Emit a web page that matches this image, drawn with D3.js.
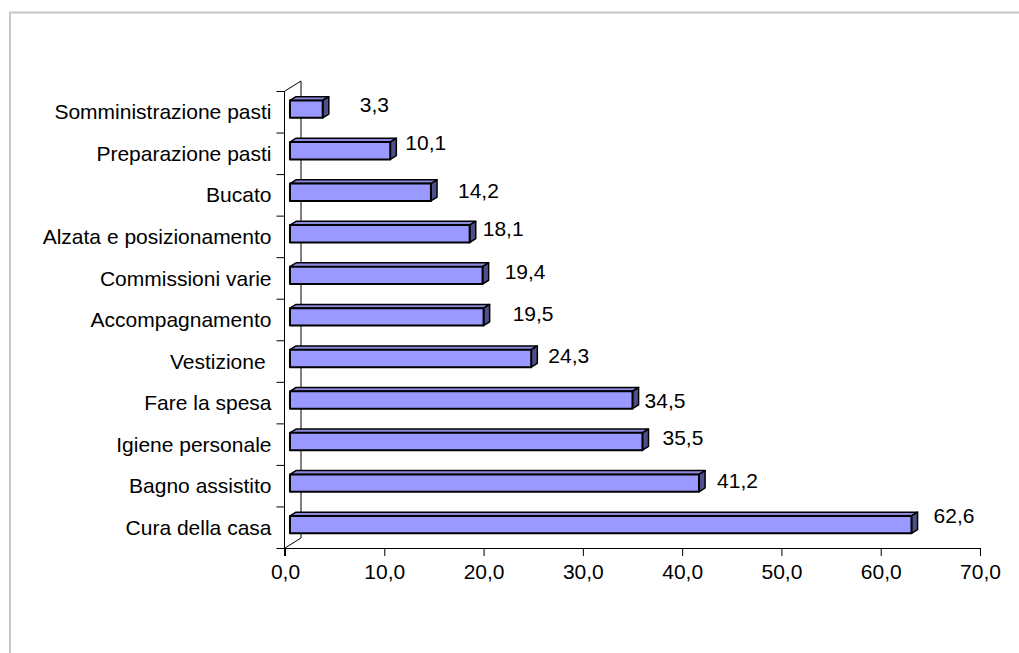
<!DOCTYPE html>
<html><head><meta charset="utf-8">
<script src="https://cdn.jsdelivr.net/npm/d3@7/dist/d3.min.js"></script>
<style>
body{margin:0;background:#fff;}
text{font-family:"Liberation Sans",Arial,sans-serif;fill:#000;}
</style></head>
<body>
<svg id="c" width="1019" height="653"></svg>
<script>
const categories = ["Somministrazione pasti","Preparazione pasti","Bucato","Alzata e posizionamento","Commissioni varie","Accompagnamento","Vestizione ","Fare la spesa","Igiene personale","Bagno assistito","Cura della casa"];
const values = [3.3,10.1,14.2,18.1,19.4,19.5,24.3,34.5,35.5,41.2,62.6];
const tickValues = [0,10,20,30,40,50,60,70];
// label nudges (layout only)
const labelGapX = [31,9,21,7,16,23,11,6,14,12,16];
const labelDy = [-7.5,-10.7,-4.8,-8,-6,-6.5,-5.8,-2.3,-7,-5.3,-11.3];

const svg = d3.select("#c");
const fmt = d => d3.format(".1f")(d).replace(".", ",");

// frame
svg.append("rect").attr("x",10).attr("y",12.5).attr("width",1100).attr("height",800)
  .attr("fill","none").attr("stroke","#c8c8c8").attr("stroke-width",2);

const x = d3.scaleLinear().domain([0,70]).range([285,980]);
const y = d3.scaleBand().domain(categories).range([91,548]).paddingInner(0).paddingOuter(0);
const wall = {dx:16, dy:-10};
const f1 = 0.31, f2 = 0.69;
const barH = 17.4;

// back wall outline
const g = svg.append("g").attr("stroke","#000").attr("stroke-width",1).attr("fill","none");
g.append("line").attr("x1",x(0)).attr("y1",91).attr("x2",x(0)+wall.dx).attr("y2",91+wall.dy);
g.append("line").attr("x1",x(0)+wall.dx).attr("y1",91+wall.dy).attr("x2",x(0)+wall.dx).attr("y2",548+wall.dy);
g.append("line").attr("x1",x(0)).attr("y1",548).attr("x2",x(0)+wall.dx).attr("y2",548+wall.dy);

// x axis
const xa = svg.append("g").attr("transform","translate(0,548)")
  .call(d3.axisBottom(x).tickValues(tickValues).tickFormat(fmt).tickSize(8).tickPadding(8));
xa.select(".domain").attr("stroke","#000").attr("d",`M${x(0)},0.5H${x(70)}`);
xa.selectAll(".tick line").attr("stroke","#000");
xa.selectAll("text").attr("font-size","21px").style("font-family","'Liberation Sans',Arial,sans-serif");

// y axis
const ya = svg.append("g").attr("transform",`translate(${x(0)-0.5},0)`)
  .call(d3.axisLeft(y).tickSize(0).tickPadding(13));
ya.select(".domain").attr("stroke","#000").attr("d",`M0,91V556`);
ya.selectAll("text").attr("font-size","21px").attr("dy","0.36em")
  .style("white-space","pre").style("font-family","'Liberation Sans',Arial,sans-serif");
const bounds = categories.map(c => y(c)).concat([y.range()[1]]);
ya.selectAll(".bt").data(bounds).join("line").attr("class","bt")
  .attr("x1",-8).attr("x2",0).attr("y1",d=>d+0.5).attr("y2",d=>d+0.5).attr("stroke","#000");

// bars
const ox1 = wall.dx*f1, oy1 = wall.dy*f1;
const ddx = wall.dx*(f2-f1), ddy = wall.dy*(f2-f1);
const bars = svg.append("g").attr("stroke","#000").attr("stroke-linejoin","round");
categories.forEach((c,i) => {
  const cy = y(c) + y.bandwidth()/2;
  const x0 = x(0)+ox1, x1 = x(values[i])+ox1;
  const yt = cy + oy1 - barH/2 + 0.5, yb = yt + barH;
  bars.append("polygon").attr("points",[[x0,yt],[x1,yt],[x1+ddx,yt+ddy],[x0+ddx,yt+ddy]].join(" "))
    .attr("fill","#8a8ae0").attr("stroke-width",1.5);
  bars.append("polygon").attr("points",[[x1,yt],[x1+ddx,yt+ddy],[x1+ddx,yb+ddy],[x1,yb]].join(" "))
    .attr("fill","#4f4f8c").attr("stroke-width",1.5);
  bars.append("rect").attr("x",x0).attr("y",yt).attr("width",x1-x0).attr("height",barH)
    .attr("fill","#9999ff").attr("stroke-width",2);
  svg.append("text").attr("x",x1+ddx+labelGapX[i]).attr("y",cy+labelDy[i]+7.5)
    .attr("font-size","21px").text(fmt(values[i]));
});
</script>
</body></html>
